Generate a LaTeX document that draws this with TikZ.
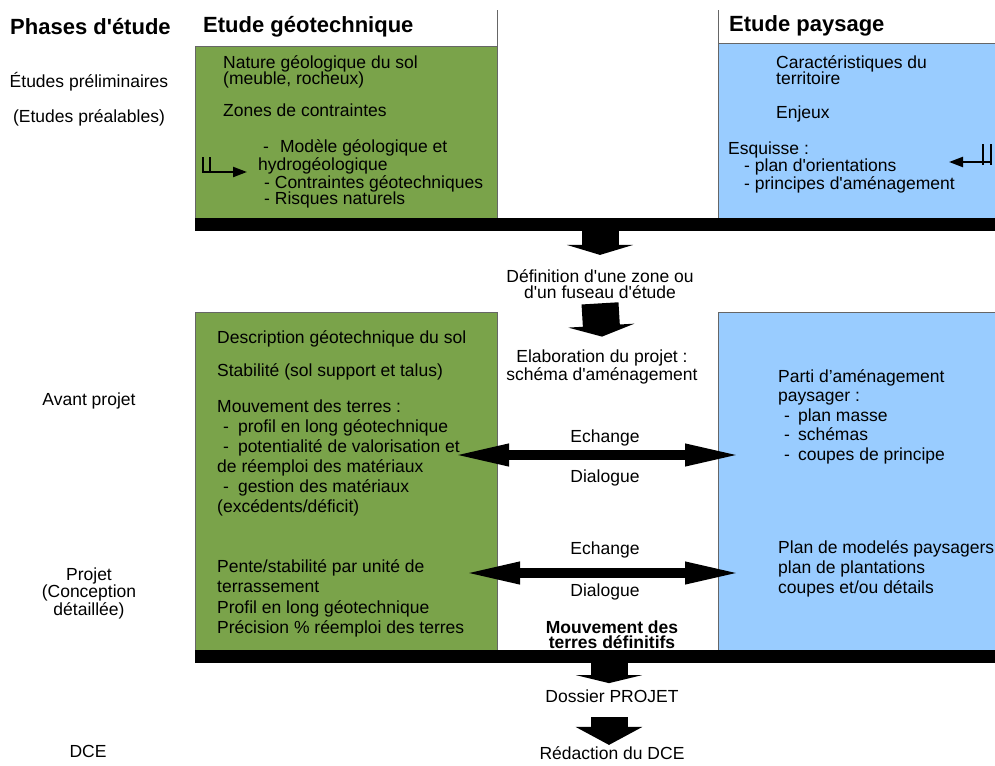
\documentclass[tikz,border=0pt]{standalone}
\usepackage{fontspec}
\setmainfont{Liberation Sans}[Ligatures=TeXOff]
\usetikzlibrary{positioning, arrows.meta}
\definecolor{vertgeo}{RGB}{122,163,74}
\definecolor{bleupay}{RGB}{153,204,255}
\tikzset{
    geo/.style={rectangle, draw=black!60, fill=vertgeo, line width=0.8pt, inner sep=0pt, outer sep=0pt, anchor=north west},
    pay/.style={rectangle, draw=black!60, fill=bleupay, line width=0.8pt, inner sep=0pt, outer sep=0pt, anchor=north west},
    barre/.style={rectangle, fill=black, inner sep=0pt, outer sep=0pt, anchor=north west, minimum width=800pt, minimum height=13pt},
    titre/.style={font=\fontsize{22}{24}\selectfont\bfseries, inner sep=0pt, anchor=base west},
    txt/.style={font=\fontsize{17.5}{#1}\selectfont, align=left, inner sep=0pt, anchor=base west},
    txt/.default=17,
    ctxt/.style={font=\fontsize{17.5}{#1}\selectfont, align=center, inner sep=0pt, anchor=base},
    ctxt/.default=17,
    bloc/.style={line width=37pt, -{Triangle[width=66pt, length=#1]}},
    echange/.style={line width=9.5pt, {Triangle[width=20pt, length=57pt]}-{Triangle[width=20pt, length=57pt]}},
    onglet/.style={line width=2.2pt, -{Triangle[width=10pt, length=14pt]}},
    filet/.style={draw=black!60, line width=0.8pt},
}
\begin{document}
\begin{tikzpicture}[x=1pt, y=-1pt]
\useasboundingbox (0,0) rectangle (995,765);

% cadres
\node[geo, minimum width=302pt, minimum height=172pt] (geo1) at (195,46) {};
\node[pay, minimum width=290pt, minimum height=175pt] (pay1) at (718,43) {};
\node[geo, minimum width=302pt, minimum height=338pt] (geo2) at (195,312) {};
\node[pay, minimum width=290pt, minimum height=338pt] (pay2) at (718,312) {};
\draw[filet] (geo1.north east) -- ++(0,-36);
\draw[filet] (pay1.north west) -- ++(0,-33);

% titres
\node[titre] (phases) at (10,35) {Phases d'étude};
\node[titre] (tgeo) at (203,33) {Etude géotechnique};
\node[titre] (tpay) at (729,32) {Etude paysage};

% phases (base = derniere ligne)
\node[ctxt] (prelim) at (89,88) {Études préliminaires};
\node[ctxt] (preal) at (89,123) {(Etudes préalables)};
\node[ctxt] (avp) at (89,405) {Avant projet};
\node[ctxt=17.5] (proj) at (89,615) {Projet\\(Conception\\détaillée)};
\node[ctxt] (dce) at (88,757) {DCE};

% etude geotechnique
\node[txt] (nat) at (223,85) {Nature géologique du sol\\(meuble, rocheux)};
\node[txt] (zon) at (223,117) {Zones de contraintes};
\node[txt=16.5] (mod) at (258,204.5) {\hspace*{5pt}-\hspace*{11pt}Modèle géologique et\\hydrogéologique\\\hspace*{6pt}- Contraintes géotechniques\\\hspace*{6pt}- Risques naturels};
\node[txt] (desc) at (217,343) {Description géotechnique du sol};
\node[txt] (stab) at (217,376) {Stabilité (sol support et talus)};
\node[txt=20] (mvt) at (217,512) {Mouvement des terres :\\\hspace*{6pt}-\hspace*{9pt}profil en long géotechnique\\\hspace*{6pt}-\hspace*{9pt}potentialité de valorisation et\\de réemploi des matériaux\\\hspace*{6pt}-\hspace*{9pt}gestion des matériaux\\(excédents/déficit)};
\node[txt=20.5] (pente) at (217,633.5) {Pente/stabilité par unité de\\terrassement\\Profil en long géotechnique\\Précision \% réemploi des terres};

% etude paysage
\node[txt] (car) at (776,85) {Caractéristiques du\\territoire};
\node[txt] (enj) at (776,118) {Enjeux};
\node[txt=17.5] (esq) at (728,189) {Esquisse :\\\hspace*{16pt}- plan d'orientations\\\hspace*{16pt}- principes d'aménagement};
\node[txt=19.5] (parti) at (778,460) {Parti d’aménagement\\paysager :\\\hspace*{6pt}-\hspace*{8pt}plan masse\\\hspace*{6pt}-\hspace*{8pt}schémas\\\hspace*{6pt}-\hspace*{8pt}coupes de principe};
\node[txt=20] (plan) at (778,593) {Plan de modelés paysagers\\plan de plantations\\coupes et/ou détails};

% colonne centrale
\node[ctxt=16] (def) at (600,298) {Définition d'une zone ou\\d'un fuseau d'étude};
\node[ctxt=16] (elab) at (602,380) {Elaboration du projet :\\schéma d'aménagement};
\node[ctxt] (ech1) at (605,442) {Echange};
\node[ctxt] (dia1) at (605,482) {Dialogue};
\node[ctxt] (ech2) at (605,554) {Echange};
\node[ctxt] (dia2) at (605,596) {Dialogue};
\node[ctxt=15, font=\fontsize{17.5}{15}\selectfont\bfseries] (defin) at (612,648) {Mouvement des\\terres définitifs};
\node[ctxt] (dos) at (612,702) {Dossier PROJET};
\node[ctxt] (red) at (612,759) {Rédaction du DCE};

% barres
\node[barre] (bar1) at (195,218) {};
\node[barre] (bar2) at (195,650) {};

% fleches
\draw[bloc=10pt] (bar1.south -| def.north) -- ([yshift=14pt]def.north);
\draw[bloc=11pt] ([yshift=-5pt]def.south) -- ([yshift=13pt]elab.north);
\draw[bloc=8pt] ([xshift=-3pt]bar2.south -| dos.north) -- ([xshift=-3pt, yshift=6pt]dos.north);
\draw[bloc=18pt] ([xshift=-3pt, yshift=-15pt]dos.south) -- ([xshift=-3pt, yshift=1pt]red.north);

\coordinate (g1) at (452,455);
\coordinate (d1) at (742,455);
\coordinate (g2) at (463,573);
\coordinate (d2) at (742,573);
\draw[echange] (g1) -- (d1);
\draw[echange] (g2) -- (d2);

\coordinate (o1) at (203,172);
\coordinate (o2) at (991,162);
\draw[onglet] (o1) -- ++(44,0);
\draw[line width=2pt] (203,157) -- (203,173) (210,157) -- (210,173);
\draw[onglet] (o2) -- ++(-42,0);
\draw[line width=2pt] (983,144) -- (983,165) (991,144) -- (991,165);
\end{tikzpicture}
\end{document}
